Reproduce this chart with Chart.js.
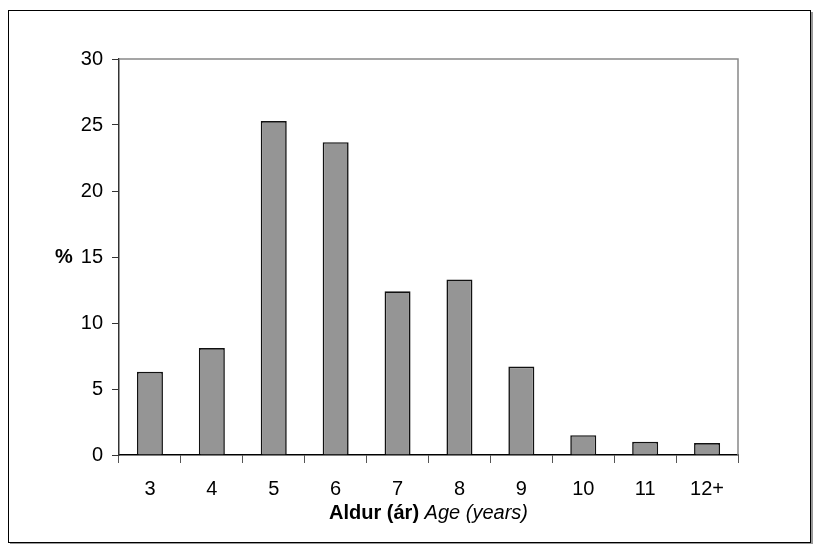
<!DOCTYPE html>
<html>
<head>
<meta charset="utf-8">
<script src="https://cdn.jsdelivr.net/npm/chart.js@4"></script>
<style>
    body { margin: 0; background: #fff; }
    #wrap { position: relative; width: 813px; height: 544px; }
    #frame {
        position: absolute; left: 8px; top: 10px; width: 801px; height: 531px;
        border: 1px solid #000; box-shadow: 2px 2px 0 #999;
    }
    #chart { position: absolute; left: 0; top: 0; }
</style>
</head>
<body>
<div id="wrap">
    <div id="frame"></div>
    <canvas id="chart" width="813" height="544"></canvas>
</div>
<script>
// Aldursdreifing - age distribution (%)
var ages = ["3", "4", "5", "6", "7", "8", "9", "10", "11", "12+"];
var percent = [6.3, 8.1, 25.3, 23.7, 12.4, 13.3, 6.7, 1.5, 1.0, 0.9];
var yTicks = [0, 5, 10, 15, 20, 25, 30];

var fontName = "'Liberation Sans', Arial, sans-serif";

// top/right plot border, the "%" label and the two-font x title
var extras = {
    id: "extras",
    afterDraw: function (chart) {
        var ctx = chart.ctx;
        var area = chart.chartArea;
        ctx.save();
        ctx.strokeStyle = "#888";
        ctx.lineWidth = 1.5;
        ctx.beginPath();
        ctx.moveTo(area.left, area.top);
        ctx.lineTo(area.right, area.top);
        ctx.lineTo(area.right, area.bottom);
        ctx.stroke();

        ctx.fillStyle = "#000";
        ctx.textBaseline = "middle";
        ctx.font = "bold 20px " + fontName;
        ctx.textAlign = "left";
        ctx.fillText("%", 55, chart.scales.y.getPixelForValue(15));

        var boldPart = "Aldur (ár) ";
        var italicPart = "Age (years)";
        ctx.font = "bold 20px " + fontName;
        var w1 = ctx.measureText(boldPart).width;
        ctx.font = "italic 20px " + fontName;
        var w2 = ctx.measureText(italicPart).width;
        var x0 = (area.left + area.right) / 2 - (w1 + w2) / 2;
        var ty = area.bottom + 58;
        ctx.font = "bold 20px " + fontName;
        ctx.fillText(boldPart, x0, ty);
        ctx.font = "italic 20px " + fontName;
        ctx.fillText(italicPart, x0 + w1, ty);
        ctx.restore();
    }
};

var ctx = document.getElementById("chart").getContext("2d");
new Chart(ctx, {
    type: "bar",
    data: {
        labels: ages,
        datasets: [{
            data: percent,
            backgroundColor: "#959595",
            borderColor: "#111",
            borderWidth: 1.6,
            categoryPercentage: 1,
            barPercentage: 0.42
        }]
    },
    options: {
        responsive: false,
        animation: false,
        layout: { padding: { left: 0, top: 59, right: 75, bottom: 0 } },
        plugins: {
            legend: { display: false },
            tooltip: { enabled: false }
        },
        scales: {
            x: {
                afterFit: function (scale) { scale.height = 89; },
                grid: {
                    offset: true,
                    drawOnChartArea: false,
                    tickLength: 8,
                    tickColor: "#555"
                },
                border: { color: "#000", width: 1.5 },
                ticks: {
                    color: "#000",
                    padding: 14,
                    font: { family: fontName, size: 20 }
                }
            },
            y: {
                min: 0,
                max: 30,
                afterFit: function (scale) { scale.width = 119; },
                afterBuildTicks: function (scale) {
                    scale.ticks = yTicks.map(function (v) { return { value: v }; });
                },
                grid: {
                    drawOnChartArea: false,
                    tickLength: 7,
                    tickColor: "#333"
                },
                border: { color: "#333", width: 1.5 },
                ticks: {
                    color: "#000",
                    padding: 9,
                    font: { family: fontName, size: 20 }
                }
            }
        }
    },
    plugins: [extras]
});
</script>
</body>
</html>
